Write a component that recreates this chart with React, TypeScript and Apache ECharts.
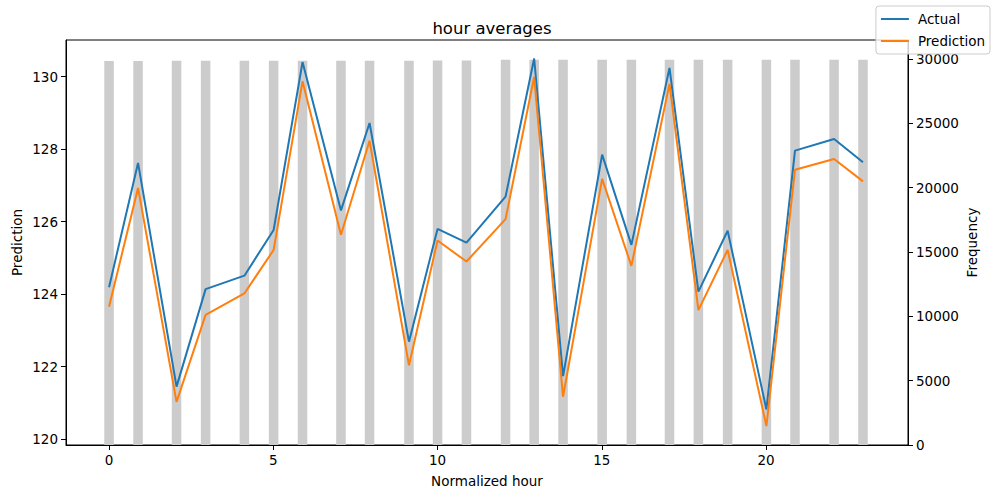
import React, { useEffect, useRef } from "react";
import * as echarts from "echarts";

const hours = [0, 0.883, 2.055, 2.94, 4.12, 5.01, 5.89, 7.06, 7.93, 9.13, 10.0, 10.88, 12.07, 12.94, 13.82, 15.01, 15.9, 17.06, 17.94, 18.83, 20.01, 20.88, 22.07, 22.95];
const actual = [124.19, 127.62, 121.45, 124.14, 124.51, 125.77, 130.4, 126.31, 128.72, 122.69, 125.8, 125.42, 126.69, 130.5, 121.74, 127.85, 125.36, 130.24, 124.07, 125.75, 120.82, 127.96, 128.28, 127.64];
const prediction = [123.65, 126.93, 121.03, 123.43, 124.02, 125.22, 129.87, 125.64, 128.23, 122.04, 125.48, 124.9, 126.07, 129.99, 121.17, 127.18, 124.78, 129.8, 123.56, 125.22, 120.36, 127.43, 127.73, 127.11];
const frequency = [29840, 29840, 29850, 29850, 29850, 29860, 29860, 29860, 29860, 29860, 29870, 29870, 29930, 29930, 29930, 29930, 29930, 29930, 29930, 29930, 29930, 29930, 29930, 29930];
const xTicks = [0, 5, 10, 15, 20];
const leftTicks = [120, 122, 124, 126, 128, 130];
const rightTicks = [0, 5000, 10000, 15000, 20000, 25000, 30000];

const FONT = "DejaVu Sans";

export default function App() {
  const ref = useRef<HTMLDivElement>(null);
  useEffect(() => {
    if (!ref.current) return;
    const chart = echarts.init(ref.current, undefined, { renderer: "svg" });
    const axisCommon = {
      axisLine: { show: true, onZero: false, lineStyle: { color: "#000", width: 1 } },
      axisTick: { show: true, inside: false, length: 5, lineStyle: { color: "#000", width: 1 } },
      splitLine: { show: false },
      nameMoveOverlap: false,
      nameTextStyle: { fontFamily: FONT, fontSize: 13.5, color: "#000" },
    };
    const labelStyle = { fontFamily: FONT, fontSize: 13.5, color: "#000", margin: 8 };
    chart.setOption({
      animation: false,
      title: {
        text: "hour averages",
        left: 487,
        top: 15,
        textAlign: "center",
        textStyle: { fontFamily: FONT, fontSize: 16.5, fontWeight: "normal", color: "#000" },
      },
      legend: {
        orient: "vertical",
        right: 8,
        top: 6,
        data: [
          { name: "Actual", icon: "rect" },
          { name: "Prediction", icon: "rect" },
        ],
        itemWidth: 28,
        itemHeight: 2,
        itemGap: 8,
        padding: [6, 5, 6, 5],
        backgroundColor: "rgba(255,255,255,0.8)",
        borderColor: "#cccccc",
        borderWidth: 1,
        borderRadius: 3,
        textStyle: { fontFamily: FONT, fontSize: 13.5, color: "#000", padding: [0, 0, 0, 4] },
        z: 10,
      },
      grid: {
        left: 66,
        right: 90,
        top: 40,
        bottom: 53,
        containLabel: false,
        outerBoundsMode: "none",
        show: true,
        borderColor: "#000",
        borderWidth: 1,
        backgroundColor: "transparent",
      },
      xAxis: {
        type: "value",
        min: -1.31,
        max: 24.32,
        name: "Normalized hour",
        nameLocation: "middle",
        nameGap: 29,
        ...axisCommon,
        axisTick: { ...axisCommon.axisTick, customValues: xTicks },
        axisLabel: { ...labelStyle, customValues: xTicks },
      },
      yAxis: [
        {
          type: "value",
          min: 119.84,
          max: 131.01,
          name: "Prediction",
          nameLocation: "middle",
          nameGap: 42,
          nameRotate: 90,
          ...axisCommon,
          axisTick: { ...axisCommon.axisTick, customValues: leftTicks },
          axisLabel: { ...labelStyle, customValues: leftTicks },
        },
        {
          type: "value",
          position: "right",
          min: 0,
          max: 31470,
          name: "Frequency",
          nameLocation: "middle",
          nameGap: 57,
          nameRotate: 90,
          ...axisCommon,
          axisTick: { ...axisCommon.axisTick, customValues: rightTicks },
          axisLabel: { ...labelStyle, customValues: rightTicks, formatter: (v: number) => String(v) },
        },
      ],
      series: [
        {
          type: "custom",
          name: "Frequency",
          yAxisIndex: 1,
          z: 1,
          data: hours.map((h, i) => [h, frequency[i]]),
          encode: { x: 0, y: 1 },
          renderItem: (params: any, api: any) => {
            const x = api.value(0);
            const y = api.value(1);
            const p0 = api.coord([x, 0]);
            const p1 = api.coord([x, y]);
            const w = api.size([0.29, 0])[0];
            return {
              type: "rect",
              shape: { x: p0[0] - w / 2, y: p1[1], width: w, height: p0[1] - p1[1] },
              style: { fill: "#cccccc" },
            };
          },
        },
        {
          type: "line",
          name: "Actual",
          yAxisIndex: 0,
          z: 3,
          showSymbol: false,
          symbol: "none",
          color: "#1f77b4",
          lineStyle: { color: "#1f77b4", width: 2 },
          data: hours.map((h, i) => [h, actual[i]]),
        },
        {
          type: "line",
          name: "Prediction",
          yAxisIndex: 0,
          z: 4,
          showSymbol: false,
          symbol: "none",
          color: "#ff7f0e",
          lineStyle: { color: "#ff7f0e", width: 2 },
          data: hours.map((h, i) => [h, prediction[i]]),
        },
      ],
    });
    return () => chart.dispose();
  }, []);
  return <div ref={ref} style={{ width: 998, height: 498, position: "absolute", left: 0, top: 0 }} />;
}
